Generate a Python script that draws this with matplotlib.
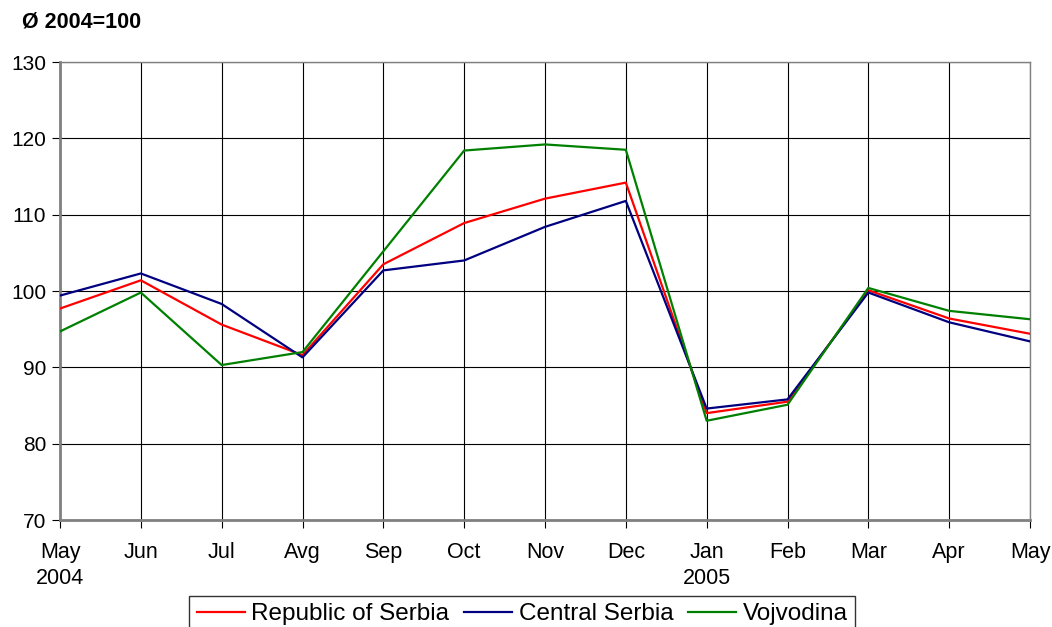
import matplotlib
matplotlib.use("Agg")
import matplotlib.pyplot as plt

months = ["May\n2004", "Jun", "Jul", "Avg", "Sep", "Oct", "Nov", "Dec",
          "Jan\n2005", "Feb", "Mar", "Apr", "May"]
serbia = [97.7, 101.4, 95.6, 91.6, 103.5, 108.9, 112.1, 114.2, 84.0, 85.5, 100.1, 96.4, 94.4]
central = [99.4, 102.3, 98.3, 91.3, 102.7, 104.0, 108.4, 111.8, 84.6, 85.8, 99.8, 95.9, 93.4]
vojvodina = [94.7, 99.8, 90.3, 92.0, 105.2, 118.4, 119.2, 118.5, 83.0, 85.1, 100.4, 97.4, 96.3]
yticks = [70, 80, 90, 100, 110, 120, 130]

plt.rcParams['font.family'] = ['Liberation Sans', 'DejaVu Sans']

W, H = 1052, 627
fig = plt.figure(figsize=(W / 100, H / 100), dpi=100)
ax = fig.add_axes([60 / W, 1 - 520 / H, (1030 - 60) / W, (520 - 62) / H])

x = list(range(len(months)))
ax.plot(x, serbia, color="#FF0000", lw=1.6, label="Republic of Serbia", zorder=3)
ax.plot(x, central, color="#000080", lw=1.6, label="Central Serbia", zorder=3)
ax.plot(x, vojvodina, color="#008000", lw=1.6, label="Vojvodina", zorder=3)

ax.set_xlim(0, len(months) - 1)
ax.set_ylim(70, 130)
ax.set_yticks(yticks)
ax.set_xticks(x)
ax.set_xticklabels(months, fontsize=15.5, linespacing=1.3)
ax.tick_params(axis='y', labelsize=15, direction='out', length=6, color='black', pad=4)
ax.tick_params(axis='x', direction='out', length=6, color='black', pad=10)
for lbl in ax.get_xticklabels():
    lbl.set_multialignment('center')

ax.grid(True, color='black', lw=0.8)
ax.set_axisbelow(True)
for side in ['left', 'bottom']:
    ax.spines[side].set_color('#808080')
    ax.spines[side].set_linewidth(2)
for side in ['top', 'right']:
    ax.spines[side].set_color('#808080')
    ax.spines[side].set_linewidth(1)

fig.text(22 / W, 1 - 22 / H, "Ø 2004=100", fontsize=15.5, fontweight='bold',
         ha='left', va='center')

leg = fig.legend(loc='upper center', bbox_to_anchor=(522 / W, 1 - 596 / H), ncol=3,
                 frameon=True, fancybox=False, fontsize=17.5, handlelength=2.0,
                 handletextpad=0.25, columnspacing=0.6, borderpad=0.3, borderaxespad=0)
leg.get_frame().set_edgecolor('black')
leg.get_frame().set_linewidth(1)

fig.savefig("out.png", dpi=100)
